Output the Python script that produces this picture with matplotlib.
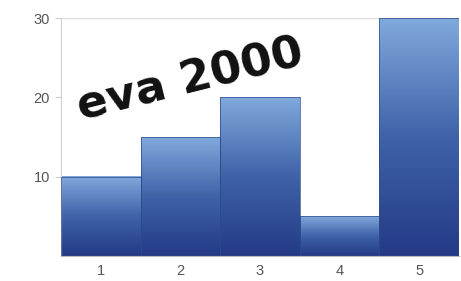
import numpy as np
import matplotlib.pyplot as plt
from matplotlib.colors import LinearSegmentedColormap

categories = [1, 2, 3, 4, 5]
values = [10, 15, 20, 5, 30]
yticks = [10, 20, 30]

plt.rcParams['font.family'] = ['Liberation Sans', 'DejaVu Sans']

fig = plt.figure(figsize=(4.61, 2.81), dpi=100)
ax = fig.add_axes([61 / 461, 25 / 281, 398 / 461, 238 / 281])

# light at the top, dark at the bottom of each bar
cmap = LinearSegmentedColormap.from_list("bar", ["#243a86", "#3f62a8", "#80a9dc"])
grad = np.linspace(0, 1, 256).reshape(-1, 1)

for x, v in zip(categories, values):
    ax.imshow(grad, cmap=cmap, aspect="auto", origin="lower",
              extent=(x - 0.5, x + 0.5, 0, v), zorder=2)
    ax.add_patch(plt.Rectangle((x - 0.5, 0), 1, v, fill=False,
                               edgecolor="#2c4a8a", linewidth=0.5, zorder=3))

ax.set_xlim(0.5, 5.5)
ax.set_ylim(0, 30)
ax.set_xticks(categories)
ax.set_yticks(yticks)
ax.tick_params(colors="#555555", labelsize=10.5, length=0, pad=6)
ax.tick_params(axis="y", length=4, color="#cccccc", pad=4)
ax.axhline(30, color="#dddddd", linewidth=1, zorder=1)

for side in ["top", "right"]:
    ax.spines[side].set_visible(False)
ax.spines["left"].set_color("#d0d0d0")
ax.spines["bottom"].set_color("#bbbbbb")

ax.text(2.12, 22.2, "eva 2000", fontsize=32.5, fontweight="heavy",
        family="DejaVu Sans", rotation=14, ha="center", va="center",
        color="#111111", zorder=4)

fig.savefig("out.png", dpi=100)
